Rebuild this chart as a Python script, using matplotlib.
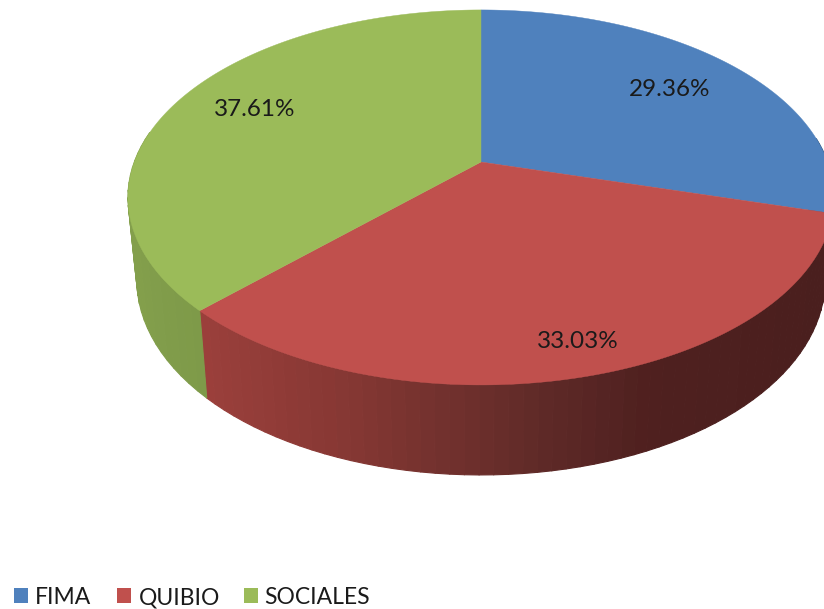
import matplotlib
matplotlib.use('Agg')
import matplotlib.pyplot as plt
import numpy as np
from matplotlib.collections import PolyCollection
from matplotlib.colors import LinearSegmentedColormap

categories = ['FIMA', 'QUIBIO', 'SOCIALES']
values = [29.36, 33.03, 37.61]
colors = ['#4F81BD', '#C0504D', '#9BBB59']
value_labels = ['29.36%', '33.03%', '37.61%']

plt.rcParams['font.family'] = ['Lato', 'DejaVu Sans']

# perspective of the pie disc, in image pixels
cx, cy = 481, 162
k = 0.189
a = 346.7
b = 180.8


def top_edge(theta):
    X, Y = np.sin(theta), np.cos(theta)
    w = 1 + k * Y
    return cx + a * X / w, cy - b * Y / w


def bottom_edge(theta):
    X, Y = np.sin(theta), np.cos(theta)
    w = 1 + k * Y
    s = 0.975
    return cx + s * a * X / w, cy + (79.6 - 16 * Y) - s * b * Y / w


fig = plt.figure(figsize=(8.24, 6.09), dpi=100)
ax = fig.add_axes([0, 0, 1, 1])
ax.set_xlim(0, 824)
ax.set_ylim(609, 0)
ax.axis('off')

edges = np.concatenate([[0], np.cumsum(values)]) / sum(values) * 2 * np.pi

# side walls first, in coarse strips so the shade steps like the original
red_side = LinearSegmentedColormap.from_list(
    'red_side', [(0, '#9C403C'), (0.25, '#853733'), (0.55, '#5F2A28'), (0.72, '#4F201F'), (1, '#4A1F1E')])
green_side = LinearSegmentedColormap.from_list('green_side', ['#84A04C', '#7E9A49'])

for i, col in enumerate(colors):
    t = np.linspace(edges[i], edges[i + 1], 60)
    xt, yt = top_edge(t)
    xb, yb = bottom_edge(t)
    quads = []
    cols = []
    for j in range(len(t) - 1):
        # back of the disc is hidden behind the top
        if np.cos(t[j]) > 0.15:
            continue
        quads.append([(xt[j], yt[j]), (xt[j + 1], yt[j + 1]), (xb[j + 1], yb[j + 1]), (xb[j], yb[j])])
        if i == 0:
            cols.append('#2F4D71')
        elif i == 1:
            cols.append(red_side(np.clip((xb[j] - 205) / (824 - 205), 0, 1)))
        else:
            cols.append(green_side(np.clip((xb[j] - 130) / 75, 0, 1)))
    ax.add_collection(PolyCollection(quads, facecolors=cols, edgecolors=cols, linewidths=0.8))

# top surface
for i, col in enumerate(colors):
    t = np.linspace(edges[i], edges[i + 1], 200)
    x, y = top_edge(t)
    ax.fill(np.r_[cx, x], np.r_[cy, y], color=col, lw=0.3)

# value labels
label_pos = [(670, 89), (578, 342), (255, 109)]
for lab, (lx, ly) in zip(value_labels, label_pos):
    ax.text(lx, ly, lab, ha='center', va='center', fontsize=17.5, color='#1A1A1A')

# legend
legend_x = [14, 117, 244]
text_x = [35, 139, 264]
for name, col, sx, tx in zip(categories, colors, legend_x, text_x):
    ax.fill([sx, sx + 14.5, sx + 14.5, sx], [588, 588, 603, 603], color=col, lw=0)
    ax.text(tx, 598, name, ha='left', va='center', fontsize=16.5, color='#1A1A1A')

fig.savefig('out.png', dpi=100)
